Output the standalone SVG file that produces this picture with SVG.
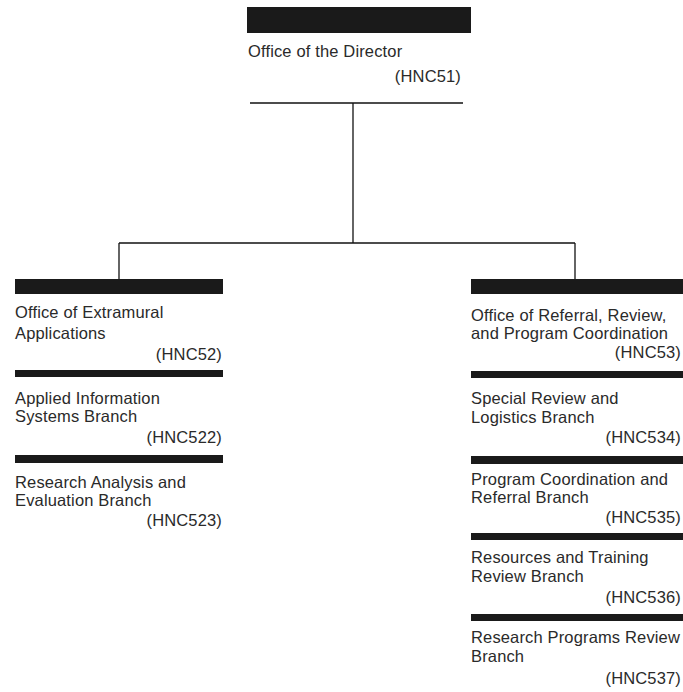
<svg xmlns="http://www.w3.org/2000/svg" width="683" height="692" viewBox="0 0 683 692">
<style>
.bar{fill:#1a1a1a}
.t{font-family:"Liberation Sans",Arial,sans-serif;font-size:16.5px;letter-spacing:0.15px;fill:#2a2a2a}
.c{text-anchor:end}
.ln{stroke:#111;stroke-width:1.3;fill:none}
</style>
<rect width="683" height="692" fill="#fff"/>
<g id="connectors">
<line class="ln" x1="250" y1="103" x2="463" y2="103"/>
<line class="ln" x1="353" y1="103" x2="353" y2="243"/>
<line class="ln" x1="119" y1="243" x2="575" y2="243"/>
<line class="ln" x1="119" y1="243" x2="119" y2="279"/>
<line class="ln" x1="575" y1="243" x2="575" y2="279"/>
</g>
<g id="director">
<rect class="bar" x="247" y="7" width="224" height="26"/>
<text class="t" x="248" y="57">Office of the Director</text>
<text class="t c" x="461" y="82">(HNC51)</text>
</g>
<g id="hnc52">
<rect class="bar" x="15" y="279" width="208" height="15"/>
<text class="t" x="15" y="318">Office of Extramural</text>
<text class="t" x="15" y="339">Applications</text>
<text class="t c" x="222" y="360">(HNC52)</text>
</g>
<g id="hnc522">
<rect class="bar" x="15" y="370" width="208" height="7"/>
<text class="t" x="15" y="404">Applied Information</text>
<text class="t" x="15" y="422">Systems Branch</text>
<text class="t c" x="222" y="443">(HNC522)</text>
</g>
<g id="hnc523">
<rect class="bar" x="15" y="455" width="208" height="8"/>
<text class="t" x="15" y="488">Research Analysis and</text>
<text class="t" x="15" y="506">Evaluation Branch</text>
<text class="t c" x="222" y="526">(HNC523)</text>
</g>
<g id="hnc53">
<rect class="bar" x="471" y="279" width="212" height="15"/>
<text class="t" x="471" y="321">Office of Referral, Review,</text>
<text class="t" x="471" y="339">and Program Coordination</text>
<text class="t c" x="681" y="358">(HNC53)</text>
</g>
<g id="hnc534">
<rect class="bar" x="471" y="371" width="212" height="7"/>
<text class="t" x="471" y="404">Special Review and</text>
<text class="t" x="471" y="423">Logistics Branch</text>
<text class="t c" x="681" y="443">(HNC534)</text>
</g>
<g id="hnc535">
<rect class="bar" x="471" y="456" width="212" height="8"/>
<text class="t" x="471" y="485">Program Coordination and</text>
<text class="t" x="471" y="503">Referral Branch</text>
<text class="t c" x="681" y="523">(HNC535)</text>
</g>
<g id="hnc536">
<rect class="bar" x="471" y="533" width="212" height="7"/>
<text class="t" x="471" y="563">Resources and Training</text>
<text class="t" x="471" y="582">Review Branch</text>
<text class="t c" x="681" y="603">(HNC536)</text>
</g>
<g id="hnc537">
<rect class="bar" x="471" y="614" width="212" height="7"/>
<text class="t" x="471" y="643">Research Programs Review</text>
<text class="t" x="471" y="662">Branch</text>
<text class="t c" x="681" y="684">(HNC537)</text>
</g>
</svg>
